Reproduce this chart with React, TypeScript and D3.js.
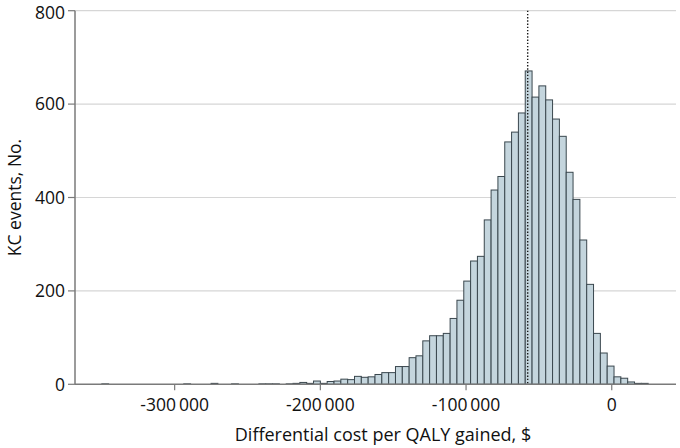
import * as d3 from 'd3';

// histogram of simulated differential cost per QALY gained
const binStart = -350000;
const binWidth = 4687.5;
const counts = [
  1, 0, 0, 0, 0, 0, 0, 0, 0, 0, 0, 0, 1, 0, 0, 0, 2, 0, 0, 1,
  0, 0, 0, 1, 1, 1, 0, 1, 2, 4, 2, 7, 2, 6, 7, 11, 10, 17, 15, 16,
  21, 25, 25, 38, 38, 57, 61, 93, 104, 104, 109, 141, 180, 221, 264, 274, 352, 416, 445, 519,
  540, 581, 671, 615, 639, 609, 568, 531, 454, 396, 309, 214, 109, 67, 39, 16, 13, 5, 2, 2,
];
const xTicks = [-300000, -200000, -100000, 0];
const yTicks = [0, 200, 400, 600, 800];
const medianLine = -57700;

const width = 680;
const height = 448;
const margin = { top: 10.7, right: 4, bottom: 63.7, left: 75 };
const font = '"Open Sans", "Noto Sans", sans-serif';

const fmt = (v: number) => {
  if (v === 0) return '0';
  const s = Math.abs(v).toString();
  const parts: string[] = [];
  for (let i = s.length; i > 0; i -= 3) parts.unshift(s.slice(Math.max(0, i - 3), i));
  return (v < 0 ? '-' : '') + parts.join('\u2009');
};

export default function App() {
  const x = d3
    .scaleLinear()
    .domain([-368400, 44100])
    .range([margin.left, width - margin.right]);
  const y = d3
    .scaleLinear()
    .domain([0, 800])
    .range([height - margin.bottom, margin.top]);

  const bins = counts.map((c, i) => ({
    x0: binStart + i * binWidth,
    x1: binStart + (i + 1) * binWidth,
    count: c,
  }));

  const [x0, x1] = x.range();
  const [y0, y1] = y.range();

  return (
    <svg
      width={width}
      height={height}
      style={{ position: 'absolute', left: 0, top: 0, background: '#fff' }}
      fontFamily={font}
    >
      {/* gridlines */}
      {yTicks
        .filter((t) => t > 0)
        .map((t) => (
          <line key={t} x1={x0} x2={x1} y1={y(t)} y2={y(t)} stroke="#d6d6d6" strokeWidth={1.2} />
        ))}

      {/* bars */}
      {bins
        .filter((b) => b.count > 0)
        .map((b) => (
          <rect
            key={b.x0}
            x={x(b.x0)}
            y={y(b.count)}
            width={x(b.x1) - x(b.x0)}
            height={y(0) - y(b.count)}
            fill="#c4d5dd"
            stroke="#3a474e"
            strokeWidth={1}
          />
        ))}

      {/* dotted reference line */}
      <line
        x1={x(medianLine)}
        x2={x(medianLine)}
        y1={y1}
        y2={y0}
        stroke="#1a1a1a"
        strokeWidth={1.4}
        strokeDasharray="1.4,1.8"
      />

      {/* axes */}
      <line x1={x0} x2={x0} y1={y1} y2={y0} stroke="#7a7a7a" strokeWidth={1.5} />
      <line x1={x0} x2={x1} y1={y0} y2={y0} stroke="#7a7a7a" strokeWidth={1.5} />

      {yTicks.map((t) => (
        <g key={t}>
          <line x1={x0 - 7} x2={x0} y1={y(t)} y2={y(t)} stroke="#7a7a7a" strokeWidth={1.2} />
          <text
            x={x0 - 10}
            y={Math.max(y(t) + 6.3, 19)}
            textAnchor="end"
            fontSize={17.5}
            fill="#111"
          >
            {t}
          </text>
        </g>
      ))}

      {xTicks.map((t) => (
        <g key={t}>
          <line x1={x(t)} x2={x(t)} y1={y0} y2={y0 + 6} stroke="#7a7a7a" strokeWidth={1.2} />
          <text x={x(t)} y={y0 + 27} textAnchor="middle" fontSize={17.5} fill="#111">
            {fmt(t)}
          </text>
        </g>
      ))}

      <text x={383} y={441} textAnchor="middle" fontSize={18} fill="#111">
        Differential cost per QALY gained, $
      </text>
      <text
        transform={`translate(21,${(y0 + y1) / 2}) rotate(-90)`}
        textAnchor="middle"
        fontSize={17.5}
        fill="#111"
      >
        KC events, No.
      </text>
    </svg>
  );
}
